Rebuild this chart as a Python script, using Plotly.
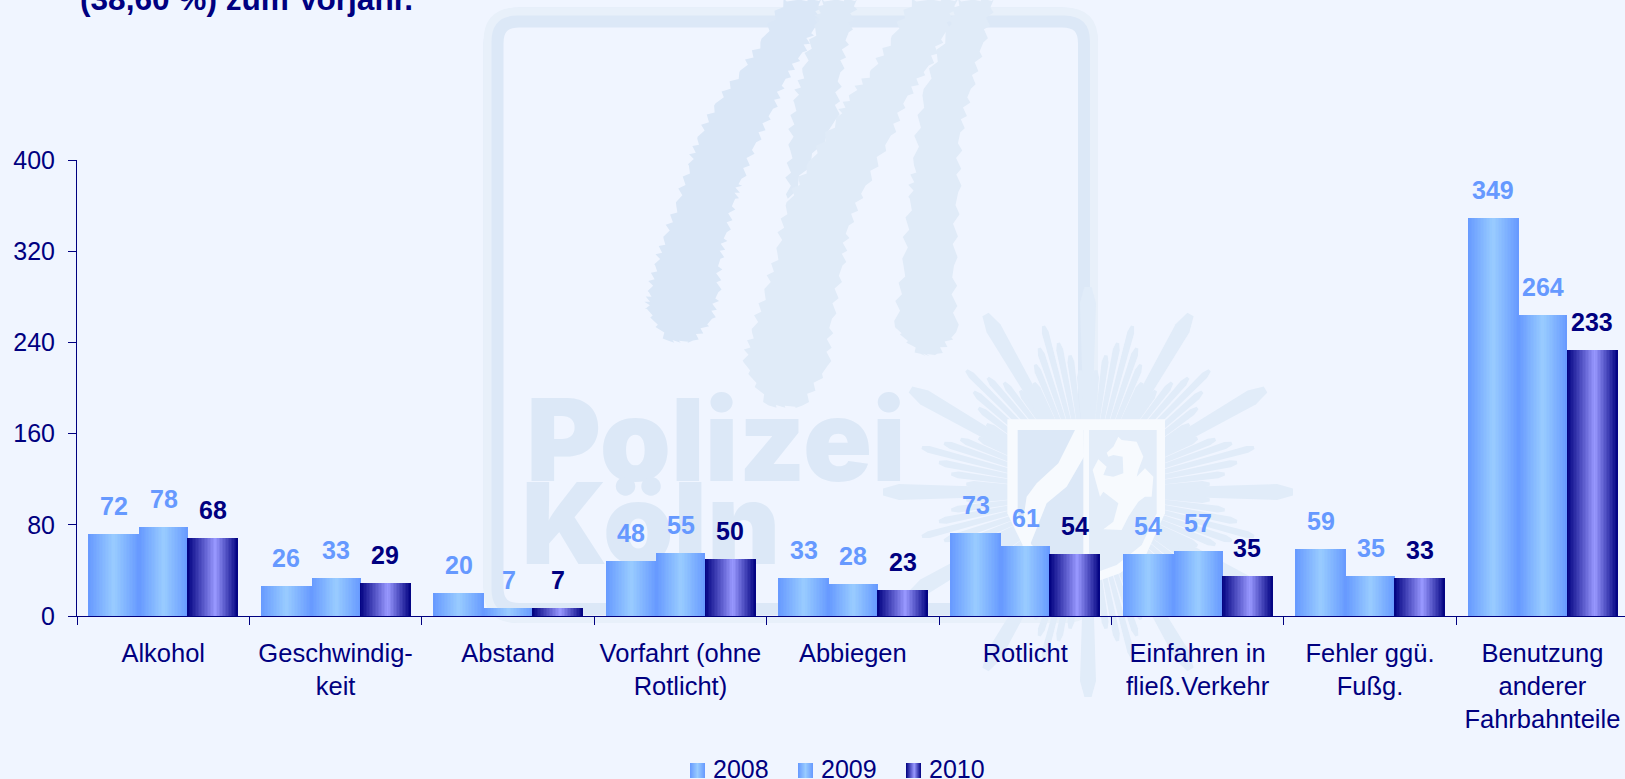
import math
import plotly.graph_objects as go

categories = ["Alkohol", "Geschwindig-<br>keit", "Abstand", "Vorfahrt (ohne<br>Rotlicht)", "Abbiegen",
              "Rotlicht", "Einfahren in<br>fließ.Verkehr", "Fehler ggü.<br>Fußg.",
              "Benutzung<br>anderer<br>Fahrbahnteile"]
values_2008 = [72, 26, 20, 48, 33, 73, 54, 59, 349]
values_2009 = [78, 33, 7, 55, 28, 61, 57, 35, 264]
values_2010 = [68, 29, 7, 50, 23, 54, 35, 33, 233]
y_ticks = [0, 80, 160, 240, 320, 400]
title_tail = "(38,60 %) zum Vorjahr."

NAVY = "#000080"
BG = "#F0F5FF"
MARK = "#DCE8F7"
MARK2 = "#E1ECF9"
FONT = "Liberation Sans, Arial, sans-serif"

W, H = 1625, 779
L, R, T, B = 77, 1625, 160, 616
PITCH = 172.4
X_END = -0.5 + (R - L) / PITCH


def px(x):
    return (x - L) / (R - L)


def py(y):
    return (B - y) / (B - T)


def hex_rgb(c):
    return tuple(int(c[i:i + 2], 16) for i in (1, 3, 5))


def gradient(t, edge, peak, p):
    f = t / p if t < p else (1 - t) / (1 - p)
    a, b = hex_rgb(edge), hex_rgb(peak)
    return "rgb(%d,%d,%d)" % tuple(round(a[i] + (b[i] - a[i]) * f) for i in range(3))


series = [
    dict(name="2008", values=values_2008, edge="#6699FF", peak="#99CCFF", p=0.5,
         start=-74.8, width=51, label="#6699FF"),
    dict(name="2009", values=values_2009, edge="#6699FF", peak="#99CCFF", p=0.5,
         start=-24.0, width=49, label="#6699FF"),
    dict(name="2010", values=values_2010, edge="#000080", peak="#9999FF", p=0.55,
         start=24.2, width=51, label="#000080"),
]

fig = go.Figure()
STRIPS = 34
for s in series:
    for k in range(STRIPS):
        w = s["width"] / STRIPS
        t = (k + 0.5) / STRIPS
        # every strip runs to the bar's right edge; the next one paints over it, so no seams show
        fig.add_bar(
            x=categories, y=s["values"],
            offset=(s["start"] + k * w) / PITCH,
            width=(s["width"] - k * w) / PITCH,
            marker=dict(color=gradient(t, s["edge"], s["peak"], s["p"]), opacity=1, line=dict(width=0)),
            showlegend=False, hoverinfo="skip", name=s["name"], legendgroup=s["name"],
        )
    fig.add_scatter(x=[None], y=[None], mode="markers", name=s["name"], legendgroup=s["name"],
                    marker=dict(symbol="square", size=15, color="rgba(0,0,0,0)"), hoverinfo="skip")

annotations = [dict(text="<b>%s</b>" % title_tail, xref="paper", yref="paper", x=px(78), y=py(19),
                    xanchor="left", yanchor="bottom", showarrow=False,
                    font=dict(family=FONT, size=31.6, color=NAVY))]
for s in series:
    center = (s["start"] + s["width"] / 2) / PITCH
    for i, v in enumerate(s["values"]):
        annotations.append(dict(text="<b>%d</b>" % v, x=i + center, y=v, xref="x", yref="y",
                                yshift=12, yanchor="bottom", xanchor="center", showarrow=False,
                                font=dict(family=FONT, size=25, color=s["label"])))

# ---- watermark behind the chart ----
shapes = []


def poly(points, fill, zoom_x, zoom_y, sx=3.0, sy=3.0):
    d = "M " + " L ".join("%.5f %.5f" % (px(zoom_x + a / sx), py(zoom_y + b / sy)) for a, b in points) + " Z"
    shapes.append(dict(type="path", path=d, xref="paper", yref="paper", layer="below",
                       fillcolor=fill, line=dict(width=0)))


def frame(x0, y0, x1, y1, r, color, width):
    a = lambda x, y: "%.5f %.5f" % (px(x), py(y))
    d = ("M " + a(x0 + r, y0) + " L " + a(x1 - r, y0) + " Q " + a(x1, y0) + " " + a(x1, y0 + r) +
         " L " + a(x1, y1 - r) + " Q " + a(x1, y1) + " " + a(x1 - r, y1) +
         " L " + a(x0 + r, y1) + " Q " + a(x0, y1) + " " + a(x0, y1 - r) +
         " L " + a(x0, y0 + r) + " Q " + a(x0, y0) + " " + a(x0 + r, y0) + " Z")
    shapes.append(dict(type="path", path=d, xref="paper", yref="paper", layer="below",
                       line=dict(color=color, width=width)))


frame(493.5, 17.5, 1088, 613, 26, MARK, 20)
frame(487.5, 11.5, 1094, 619, 30, "#E8F0FA", 8)


def ragged(points):
    """Roughen a hand-traced outline with a fixed zigzag, like the brush strokes in the logo."""
    zig = (0, 7, -6, 5, -8, 6, -5)
    out = []
    for i, (a, b) in enumerate(points):
        c, d = points[(i + 1) % len(points)]
        n = 7
        for j in range(n):
            out.append((a + (c - a) * j / n + zig[j], b + (d - b) * j / n + (zig[(j + 2) % n]) * 0.6))
    return out


strand_a = [(745, 0), (690, 130), (640, 220), (580, 320), (540, 420), (520, 500), (490, 620), (460, 720),
            (440, 800), (425, 880), (420, 930), (470, 1025), (530, 1025), (575, 960), (590, 880), (595, 780),
            (610, 700), (630, 600), (645, 540), (680, 430), (720, 330), (750, 240), (790, 160), (820, 85), (835, 0)]
strand_b = [(835, 0), (820, 85), (790, 220), (770, 310), (760, 450), (755, 600), (870, 360), (880, 220), (900, 100), (920, 0)]
strand_c = [(1050, 0), (1000, 120), (950, 220), (900, 290), (870, 360), (800, 500), (750, 620), (730, 760),
            (700, 880), (670, 1000), (650, 1090), (710, 1220), (790, 1220), (850, 1100), (860, 960), (885, 800),
            (900, 680), (940, 560), (1000, 410), (1040, 290), (1090, 200), (1130, 100), (1160, 0)]
strand_d = [(1160, 0), (1130, 100), (1075, 290), (1055, 500), (1045, 600), (1030, 800), (1010, 985), (1070, 1065),
            (1110, 1065), (1155, 1000), (1150, 800), (1160, 580), (1165, 400), (1190, 270), (1220, 130), (1245, 0)]
for st, col in ((strand_a, "#DAE7F7"), (strand_b, "#DDE9F7"), (strand_c, "#E0EBF8"), (strand_d, "#E0EBF8")):
    poly(ragged(st), col, 470, 0, sx=2.376)

# star of rays
CX, CY = 1088, 492


def ray(deg, r0, r1, w0, w1, col):
    c, s = math.cos(math.radians(deg)), math.sin(math.radians(deg))
    pts = []
    for r, w in ((r0, w0), (r1 - w1, w1), (r1, w1 * 0.45), (r1, -w1 * 0.45), (r1 - w1, -w1), (r0, -w0)):
        pts.append((CX + r * c - w / 2 * s, CY + r * s + w / 2 * c))
    poly(pts, col, 0, 0, sx=1.0, sy=1.0)


for a in range(0, 360, 30):
    ray(a, 60, 205, 8, 16, MARK2)
    for off, ln in ((3.75, 122), (7.5, 138), (11.25, 152), (15, 172), (18.75, 152), (22.5, 138), (26.25, 122)):
        ray(a + off, 60, ln, 4, 7, MARK2)

# shield
shield = [(382, 358), (855, 358), (855, 640), (800, 760), (720, 820), (620, 855), (520, 820), (440, 760), (382, 640)]
poly(shield, "#F7FAFE", 880, 300)
left_half = [(413, 390), (610, 390), (610, 825), (530, 790), (455, 735), (413, 640)]
right_half = [(627, 390), (830, 390), (830, 640), (785, 735), (710, 795), (627, 825)]
poly(left_half, "#DCE8F7", 880, 300)
poly(right_half, "#E3EDF9", 880, 300)
river = [(585, 390), (610, 390), (612, 470), (560, 560), (500, 610), (450, 735), (425, 690), (440, 590), (470, 550), (535, 490)]
poly(river, "#F7FAFE", 880, 300)
horse = [(680, 458), (700, 440), (715, 410), (725, 420), (770, 425), (790, 470), (775, 510), (770, 530), (795, 505),
         (820, 530), (815, 590), (795, 590), (775, 605), (745, 650), (725, 690), (670, 688), (700, 665), (715, 610),
         (670, 575), (660, 590), (638, 510), (655, 478), (680, 500), (670, 525), (700, 530), (730, 520), (728, 470),
         (700, 465), (685, 470)]
poly(horse, "#F7FAFE", 880, 300)

# watermark words sit in shape labels, so they stay behind the bars
for word, x0, x1, y0, y1, size in (("Polizei", 530, 902, 386, 484, 114), ("Köln", 530, 772, 462, 575, 113)):
    shapes.append(dict(type="rect", xref="paper", yref="paper", x0=px(x0), x1=px(x1), y0=py(y1), y1=py(y0),
                       layer="below", line=dict(width=0), fillcolor="rgba(0,0,0,0)",
                       label=dict(text=word, textposition="middle center",
                                  font=dict(family="Inter", weight=900, size=size, color="#DCE8F7"))))

# legend swatches with the bar gradient
for s, x0 in zip(series, (690, 798, 906)):
    for k in range(15):
        shapes.append(dict(type="rect", xref="paper", yref="paper", x0=px(x0 + k), x1=px(x0 + k + 1),
                           y0=py(778), y1=py(763), line=dict(width=0), layer="above",
                           fillcolor=gradient((k + 0.5) / 15, s["edge"], s["peak"], s["p"])))

axis_font = dict(family=FONT, size=25.5, color=NAVY)
fig.update_layout(
    width=W, height=H, autosize=False, showlegend=True,
    margin=dict(l=L, r=W - R, t=T, b=H - B, pad=0, autoexpand=False),
    paper_bgcolor=BG, plot_bgcolor="rgba(0,0,0,0)",
    barmode="overlay", bargap=0,
    annotations=annotations, shapes=shapes,
    xaxis=dict(type="category", categoryorder="array", categoryarray=categories,
               range=[-0.5, X_END], tickson="boundaries", ticks="outside", ticklen=8, tickwidth=1,
               tickcolor=NAVY, showline=True, linecolor=NAVY, linewidth=1, showgrid=False, zeroline=False,
               tickfont=axis_font, tickangle=0, ticklabelstandoff=14, fixedrange=True),
    yaxis=dict(range=[0, 400], tickmode="array", tickvals=y_ticks, ticks="outside", ticklen=8, tickwidth=1,
               tickcolor=NAVY, showline=True, linecolor=NAVY, linewidth=1, showgrid=False, zeroline=False,
               tickfont=dict(family=FONT, size=25, color=NAVY), ticklabelstandoff=8, fixedrange=True),
    legend=dict(orientation="h", x=px(673), xanchor="left", y=py(745), yanchor="top",
                font=dict(family=FONT, size=25, color=NAVY), bgcolor="rgba(0,0,0,0)", entrywidth=63,
                entrywidthmode="pixels", itemwidth=30, traceorder="normal"),
)

fig.write_html("out.html", config=dict(displayModeBar=False),
               post_script="document.body.style.margin='0';document.documentElement.style.background='%s';document.body.style.overflow='hidden';" % BG)
